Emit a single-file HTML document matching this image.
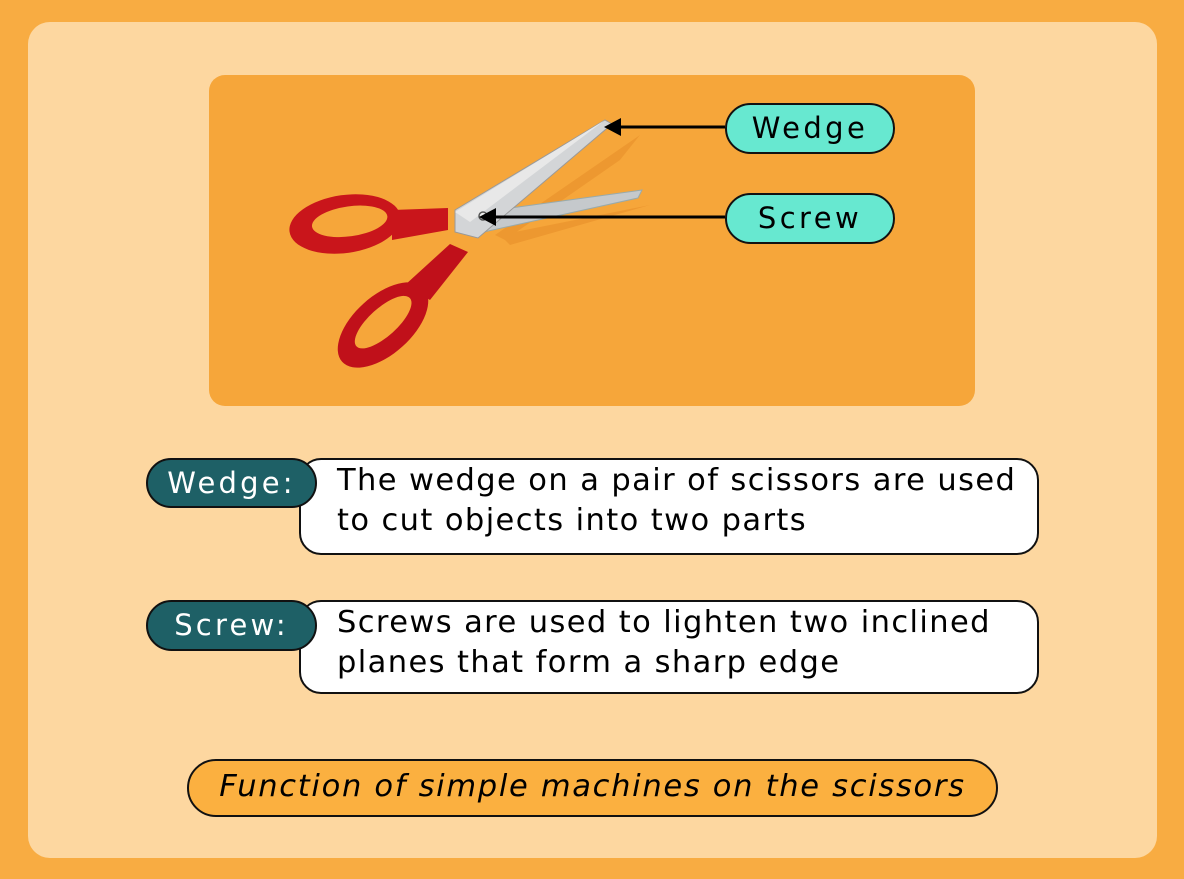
<!DOCTYPE html>
<html><head><meta charset="utf-8"><style>
body{margin:0;width:1184px;height:879px;background:#F8AC42;position:relative;overflow:hidden;font-family:"DejaVu Sans","Liberation Sans",sans-serif}
.a{position:absolute;box-sizing:border-box}
.inner{left:28px;top:22px;width:1129px;height:836px;background:#FDD7A0;border-radius:22px}
.panel{left:209px;top:75px;width:766px;height:331px;background:#F6A63A;border-radius:16px}
.tag{background:#67E8D0;border:2px solid #111;border-radius:26px;font-size:29px;letter-spacing:3.4px;text-align:center;color:#000}
.dark{background:#1E6066;border:2px solid #111;border-radius:26px;color:#fff;font-size:29px;letter-spacing:3.2px;text-align:center;line-height:46px}
.box{background:#fff;border:2px solid #111;border-radius:22px;font-size:30.5px;letter-spacing:1.4px;color:#000;padding:1px 0 0 36px;line-height:40px;white-space:nowrap}
</style></head><body>
<div class="a inner"></div>
<div class="a panel"></div>
<svg class="a" style="left:0;top:0" width="1184" height="879">
 <g fill="#E8902A" opacity="0.6">
  <polygon points="495,235 640,135 620,160 505,240"/>
  <polygon points="500,235 650,205 510,245"/>
 </g>
 <polygon points="460,215 642,190 638,198 470,235" fill="#C5C9CC" stroke="#9aa" stroke-width="1"/>
 <polygon points="455,210 605,120 612,124 478,238 455,232" fill="#D3D5D7" stroke="#999" stroke-width="1"/>
 <polygon points="455,212 605,120 470,222" fill="#E8E8E8"/>
 <g transform="rotate(-8 345 224)">
  <ellipse cx="345" cy="224" rx="56" ry="29" fill="#C9151B"/>
  <ellipse cx="350" cy="222" rx="38" ry="15" fill="#F6A63A"/>
 </g>
 <polygon points="392,210 448,208 448,230 392,240" fill="#C9151B"/>
 <g transform="rotate(-42 383 325)">
  <ellipse cx="383" cy="325" rx="55" ry="29" fill="#C0101A"/>
  <ellipse cx="385" cy="323" rx="36" ry="14" fill="#F6A63A"/>
 </g>
 <polygon points="450,244 468,252 430,300 405,285" fill="#C0101A"/>
 <circle cx="483" cy="216" r="4" fill="#eee" stroke="#555" stroke-width="1.5"/>
 <line x1="725" y1="127" x2="620" y2="127" stroke="#000" stroke-width="3"/>
 <polygon points="604,127 621,118 621,136" fill="#000"/>
 <line x1="725" y1="217" x2="495" y2="217" stroke="#000" stroke-width="3"/>
 <polygon points="479,217 496,208 496,226" fill="#000"/>
</svg>
<div class="a tag" style="left:725px;top:103px;width:170px;height:51px;line-height:47px">Wedge</div>
<div class="a tag" style="left:725px;top:193px;width:170px;height:51px;line-height:47px">Screw</div>

<div class="a box" style="left:299px;top:458px;width:740px;height:97px">The wedge on a pair of scissors are used<br>to cut objects into two parts</div>
<div class="a dark" style="left:146px;top:458px;width:171px;height:50px">Wedge:</div>
<div class="a box" style="left:299px;top:600px;width:740px;height:94px">Screws are used to lighten two inclined<br>planes that form a sharp edge</div>
<div class="a dark" style="left:146px;top:600px;width:171px;height:51px">Screw:</div>

<div class="a" style="left:187px;top:759px;width:811px;height:58px;background:#FBB040;border:2px solid #111;border-radius:29px;font-size:30.5px;letter-spacing:1.7px;font-style:italic;text-align:center;line-height:52px;white-space:nowrap">Function of simple machines on the scissors</div>
</body></html>
